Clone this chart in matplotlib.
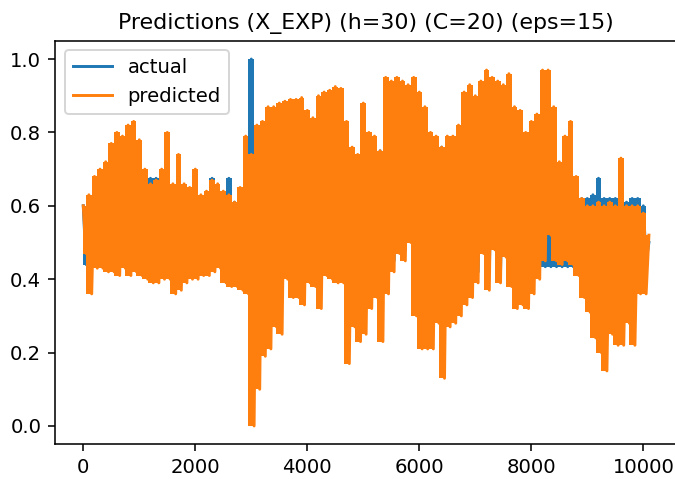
import numpy as np
import matplotlib
matplotlib.use("Agg")
import matplotlib.pyplot as plt

# sample positions (time index), every 100 steps
sample_idx = list(range(0, 10101, 100))

# predicted series: upper / lower envelope read at each sample position
pred_hi = [0.60, 0.63, 0.68, 0.70, 0.72, 0.77, 0.80, 0.79, 0.82, 0.83,
           0.78, 0.70, 0.66, 0.67, 0.70, 0.80, 0.66, 0.74, 0.66, 0.65,
           0.70, 0.63, 0.64, 0.67, 0.66, 0.64, 0.63, 0.61, 0.65, 0.79,
           0.74, 0.82, 0.83, 0.87, 0.87, 0.88, 0.885, 0.89, 0.89, 0.895,
           0.86, 0.84, 0.90, 0.91, 0.915, 0.925, 0.92, 0.83, 0.76, 0.74,
           0.88, 0.80, 0.79, 0.75, 0.95, 0.94, 0.95, 0.94, 0.93, 0.95,
           0.91, 0.87, 0.80, 0.79, 0.76, 0.79, 0.79, 0.82, 0.91, 0.93,
           0.90, 0.94, 0.97, 0.95, 0.94, 0.93, 0.96, 0.87, 0.86, 0.80,
           0.83, 0.85, 0.97, 0.97, 0.87, 0.72, 0.79, 0.83, 0.68, 0.62,
           0.60, 0.60, 0.61, 0.60, 0.61, 0.60, 0.73, 0.60, 0.60, 0.60,
           0.58, 0.52]
pred_lo = [0.47, 0.36, 0.43, 0.43, 0.42, 0.42, 0.41, 0.43, 0.41, 0.42,
           0.41, 0.40, 0.39, 0.39, 0.40, 0.40, 0.36, 0.37, 0.39, 0.40,
           0.40, 0.41, 0.41, 0.42, 0.43, 0.39, 0.38, 0.38, 0.37, 0.36,
           0.00, 0.10, 0.19, 0.21, 0.27, 0.25, 0.40, 0.35, 0.35, 0.33,
           0.39, 0.38, 0.32, 0.41, 0.40, 0.39, 0.39, 0.17, 0.27, 0.23,
           0.25, 0.32, 0.35, 0.23, 0.36, 0.42, 0.47, 0.45, 0.50, 0.30,
           0.21, 0.21, 0.21, 0.28, 0.13, 0.27, 0.28, 0.30, 0.33, 0.35,
           0.39, 0.47, 0.37, 0.48, 0.39, 0.46, 0.38, 0.32, 0.33, 0.32,
           0.36, 0.40, 0.45, 0.52, 0.45, 0.44, 0.45, 0.44, 0.41, 0.35,
           0.31, 0.24, 0.20, 0.15, 0.25, 0.22, 0.22, 0.28, 0.22, 0.36,
           0.36, 0.44]

# actual series: upper / lower envelope
act_hi = [0.60, 0.60, 0.62, 0.62, 0.62, 0.62, 0.62, 0.62, 0.62, 0.62,
          0.62, 0.675, 0.675, 0.675, 0.62, 0.60, 0.60, 0.60, 0.61, 0.64,
          0.62, 0.62, 0.62, 0.675, 0.62, 0.62, 0.675, 0.61, 0.60, 0.62,
          1.00, 0.80, 0.80, 0.80, 0.80, 0.80, 0.80, 0.80, 0.80, 0.80,
          0.80, 0.80, 0.80, 0.80, 0.80, 0.80, 0.80, 0.76, 0.74, 0.72,
          0.80, 0.75, 0.75, 0.75, 0.80, 0.80, 0.80, 0.80, 0.80, 0.80,
          0.80, 0.80, 0.76, 0.76, 0.76, 0.76, 0.76, 0.80, 0.80, 0.80,
          0.80, 0.80, 0.80, 0.80, 0.80, 0.80, 0.80, 0.80, 0.80, 0.76,
          0.76, 0.76, 0.76, 0.70, 0.70, 0.65, 0.65, 0.65, 0.62, 0.62,
          0.62, 0.63, 0.675, 0.62, 0.62, 0.62, 0.61, 0.61, 0.62, 0.62,
          0.60, 0.50]
act_lo = [0.44, 0.44, 0.44, 0.44, 0.44, 0.435, 0.435, 0.435, 0.435, 0.435,
          0.44, 0.44, 0.44, 0.44, 0.44, 0.44, 0.44, 0.44, 0.44, 0.44,
          0.44, 0.44, 0.44, 0.44, 0.44, 0.44, 0.44, 0.44, 0.44, 0.44,
          0.48, 0.42, 0.42, 0.42, 0.42, 0.42, 0.42, 0.42, 0.42, 0.42,
          0.42, 0.42, 0.42, 0.42, 0.42, 0.42, 0.42, 0.42, 0.42, 0.42,
          0.42, 0.42, 0.42, 0.42, 0.42, 0.45, 0.50, 0.48, 0.52, 0.42,
          0.42, 0.42, 0.42, 0.42, 0.42, 0.42, 0.42, 0.42, 0.42, 0.42,
          0.42, 0.50, 0.42, 0.50, 0.42, 0.48, 0.42, 0.42, 0.42, 0.42,
          0.42, 0.434, 0.434, 0.434, 0.434, 0.434, 0.434, 0.434, 0.45, 0.45,
          0.45, 0.45, 0.45, 0.45, 0.45, 0.45, 0.45, 0.45, 0.45, 0.45,
          0.45, 0.47]

title = "Predictions (X_EXP) (h=30) (C=20) (eps=15)"
labels = ["actual", "predicted"]
colors = ["#1f77b4", "#ff7f0e"]


def zigzag(idx, hi, lo):
    idx = np.asarray(idx, float)
    hi = np.asarray(hi, float)
    lo = np.asarray(lo, float)
    half = np.diff(idx).mean() / 2
    xs = np.empty(2 * len(idx) - 1)
    ys = np.empty(2 * len(idx) - 1)
    xs[0::2] = idx
    ys[0::2] = hi
    xs[1::2] = idx[:-1] + half
    ys[1::2] = lo[:-1]
    return xs, ys


DPI = 141
fig = plt.figure(figsize=(675 / DPI, 479 / DPI), dpi=DPI)
ax = fig.add_axes([55 / 675, (479 - 444.3) / 479, 622.2 / 675, 403.6 / 479])

for k, (hi, lo, lab, col) in enumerate([(act_hi, act_lo, labels[0], colors[0]),
                                        (pred_hi, pred_lo, labels[1], colors[1])]):
    ax.fill_between(sample_idx, lo, hi, step="mid", color=col, lw=0,
                    zorder=2 + 2 * k)
    xs, ys = zigzag(sample_idx, hi, lo)
    ax.plot(xs, ys, color=col, lw=1.5, label=lab, zorder=2.5 + 2 * k)

ax.set_xlim(-505, 10605)
ax.set_ylim(-0.05, 1.05)
ax.set_xticks([0, 2000, 4000, 6000, 8000, 10000])
ax.set_yticks([0.0, 0.2, 0.4, 0.6, 0.8, 1.0])
ax.set_title(title, fontsize=11.3)
ax.legend(loc="upper left")

fig.savefig("out.png", dpi=DPI)
